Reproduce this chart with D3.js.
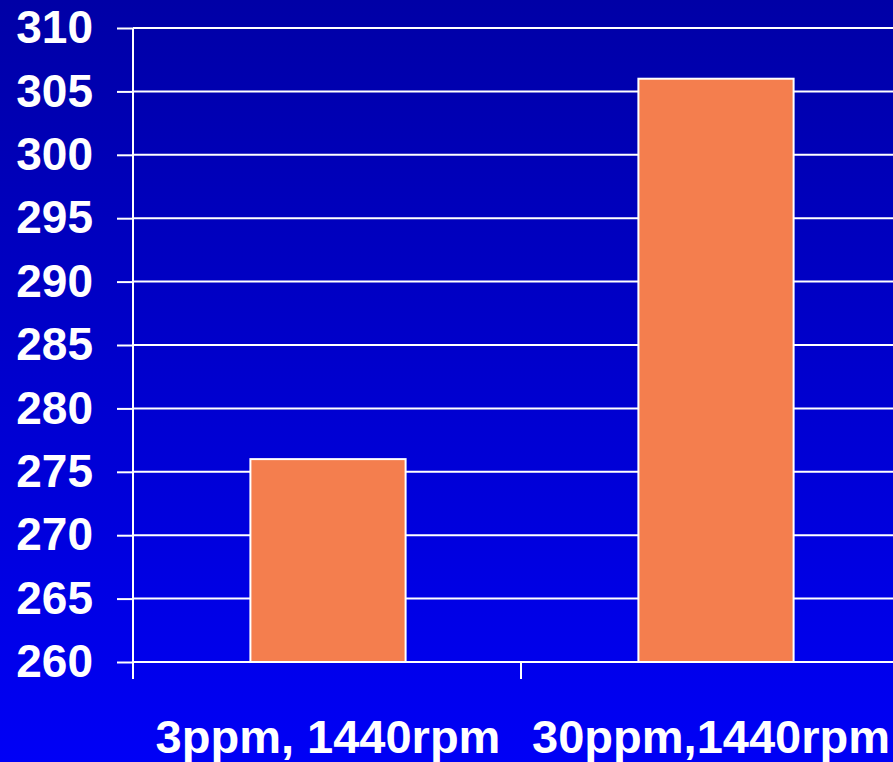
<!DOCTYPE html>
<html>
<head>
<meta charset="utf-8">
<script src="https://cdn.jsdelivr.net/npm/d3@7"></script>
<style>
  html, body { margin: 0; padding: 0; overflow: hidden; }
  svg { display: block; }
</style>
</head>
<body>
<div id="chart"></div>
<script>
// Chart data
const categories = ["3ppm, 1440rpm", "30ppm,1440rpm"];
const values = [276, 306];
const yTicks = [260, 265, 270, 275, 280, 285, 290, 295, 300, 305, 310];

const W = 893, H = 762;
const plotLeft = 133, plotRight = 909, plotTop = 28, plotBottom = 662;

const svg = d3.select("#chart").append("svg")
  .attr("width", W).attr("height", H);

// Blue vertical gradient background
const defs = svg.append("defs");
const grad = defs.append("linearGradient")
  .attr("id", "bg").attr("x1", 0).attr("y1", 0).attr("x2", 0).attr("y2", 1);
grad.append("stop").attr("offset", "0%").attr("stop-color", "#0000a6");
grad.append("stop").attr("offset", "100%").attr("stop-color", "#0000f6");
svg.append("rect").attr("width", W).attr("height", H).attr("fill", "url(#bg)");

const x = d3.scaleBand().domain(categories).range([plotLeft, plotRight]).paddingInner(0.6).paddingOuter(0.3);
const xTickScale = d3.scaleBand().domain(categories).range([plotLeft, plotRight]);
const y = d3.scaleLinear().domain([260, 310]).range([plotBottom, plotTop]);

// Horizontal gridlines
svg.append("g").selectAll("line").data(yTicks).join("line")
  .attr("x1", plotLeft).attr("x2", plotRight)
  .attr("y1", d => y(d)).attr("y2", d => y(d))
  .attr("stroke", "#ffffff").attr("stroke-width", 2);

// Bars
svg.append("g").selectAll("rect").data(values).join("rect")
  .attr("x", (d, i) => x(categories[i]) + 1)
  .attr("width", x.bandwidth())
  .attr("y", d => y(d))
  .attr("height", d => y(260) - y(d))
  .attr("fill", "#f47e4e")
  .attr("stroke", "#ffffff").attr("stroke-width", 2);

// Y axis
const yAxis = svg.append("g").attr("transform", `translate(${plotLeft},0)`)
  .call(d3.axisLeft(y).tickValues(yTicks).tickSize(16).tickPadding(24).tickFormat(d3.format("d")));
yAxis.select(".domain").remove();
yAxis.append("line").attr("x1", 0).attr("x2", 0).attr("y1", plotTop).attr("y2", plotBottom + 17)
  .attr("stroke", "#ffffff").attr("stroke-width", 2);
yAxis.selectAll(".tick line").attr("stroke", "#ffffff").attr("stroke-width", 2);
yAxis.selectAll(".tick text")
  .attr("fill", "#ffffff")
  .style("font-family", "'Liberation Sans', Arial, sans-serif")
  .style("font-weight", "bold")
  .style("font-size", "46px");

// X axis: ticks between categories, labels centred under bars
const boundaries = categories.map(c => xTickScale(c)).concat([plotRight]);
svg.append("line").attr("x1", plotLeft).attr("x2", plotRight).attr("y1", plotBottom).attr("y2", plotBottom)
  .attr("stroke", "#ffffff").attr("stroke-width", 2);
svg.append("g").selectAll("line").data(boundaries.slice(1)).join("line")
  .attr("x1", d => d).attr("x2", d => d)
  .attr("y1", plotBottom).attr("y2", plotBottom + 17)
  .attr("stroke", "#ffffff").attr("stroke-width", 2);

const xLabels = svg.append("g").selectAll("text").data(categories).join("text")
  .attr("x", d => xTickScale(d) + xTickScale.bandwidth() / 2 + 1)
  .attr("y", 753)
  .attr("text-anchor", "middle")
  .attr("fill", "#ffffff")
  .style("font-family", "'Liberation Sans', Arial, sans-serif")
  .style("font-weight", "bold")
  .style("font-size", "47px")
  .text(d => d);

// Keep labels inside the visible width
xLabels.each(function () {
  const b = this.getBBox();
  const overflow = b.x + b.width - (W - 3);
  if (overflow > 0) {
    d3.select(this).attr("x", +d3.select(this).attr("x") - overflow);
  }
});
</script>
</body>
</html>
